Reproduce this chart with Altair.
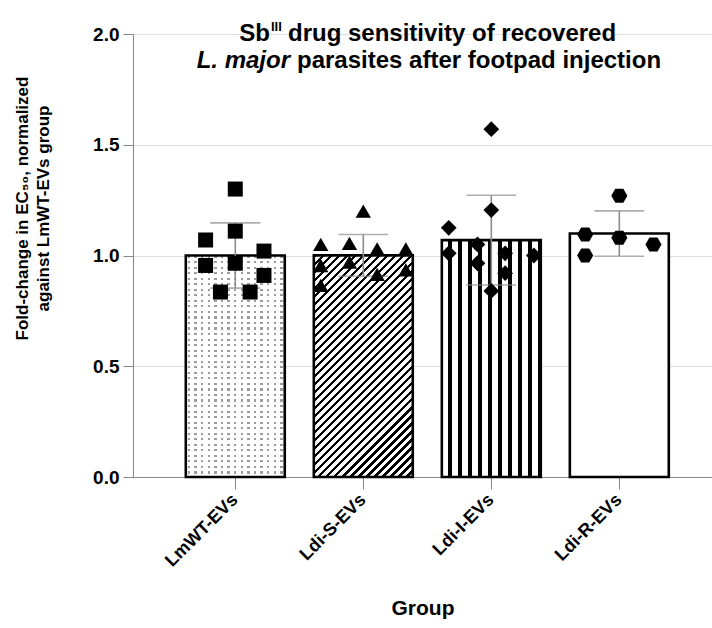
import altair as alt
import pandas as pd
import numpy as np
import json

# ---------------- data ----------------
groups = ["LmWT-EVs", "Ldi-S-EVs", "Ldi-I-EVs", "Ldi-R-EVs"]

lmwt_values = [1.30, 1.11, 1.07, 1.02, 0.955, 0.965, 0.91, 0.835, 0.835]
lmwt_jitter = [0.0, 0.0, -0.30, 0.29, -0.30, 0.0, 0.29, -0.15, 0.15]

ldis_values = [1.20, 1.05, 1.055, 1.03, 1.03, 0.955, 0.97, 0.915, 0.935, 0.865]
ldis_jitter = [0.0, -0.43, -0.14, 0.14, 0.43, -0.43, -0.14, 0.14, 0.43, -0.43]

ldii_values = [1.57, 1.205, 1.125, 1.01, 1.05, 0.965, 1.01, 0.92, 1.0, 0.84]
ldii_jitter = [0.0, 0.0, -0.43, -0.43, -0.14, -0.14, 0.14, 0.14, 0.43, 0.0]

ldir_values = [1.27, 1.095, 1.08, 1.05, 1.0]
ldir_jitter = [0.0, -0.345, 0.0, 0.345, -0.345]

y_ticks = [0.0, 0.5, 1.0, 1.5, 2.0]

rows = []
for g, vals, jit in zip(groups,
                        [lmwt_values, ldis_values, ldii_values, ldir_values],
                        [lmwt_jitter, ldis_jitter, ldii_jitter, ldir_jitter]):
    for v, j in zip(vals, jit):
        rows.append({"group": g, "value": v, "jitter": j})
df = pd.DataFrame(rows)

# ---------------- layout ----------------
W_PLOT, H_PLOT = 579, 443
PAD_IN, PAD_OUT, ALIGN = 0.227, 0.375, 0.55
n = len(groups)
step = W_PLOT / (n - PAD_IN + 2 * PAD_OUT)
bandwidth = step * (1 - PAD_IN)
first_center = (W_PLOT - step * (n - PAD_IN)) * ALIGN + bandwidth / 2
px_per_unit = H_PLOT / 2.0
FONT = "Liberation Sans"

# linear scale for the jittered points that lines up with the band centres
xq_domain = [-first_center / step, (W_PLOT - first_center) / step]
band_frac = bandwidth / step


def stripe_stops(starts, width, on, off):
    """starts/width as fractions in [0,1]"""
    stops = [{"offset": 0.0, "color": off}]
    for s in starts:
        a = max(0.0, min(1.0, s))
        b = max(0.0, min(1.0, s + width))
        if b <= a:
            continue
        stops += [{"offset": a, "color": off}, {"offset": a, "color": on},
                  {"offset": b, "color": on}, {"offset": b, "color": off}]
    stops.append({"offset": 1.0, "color": off})
    return stops


# bar 1: dotted texture (gray rows masked by white columns)
h1 = np.mean(lmwt_values) * px_per_unit
n_rows = int(h1 / 5.5)
rows_grad = {"gradient": "linear", "x1": 0, "y1": 0, "x2": 0, "y2": 1,
             "stops": stripe_stops([k / n_rows for k in range(n_rows)],
                                   0.38 / n_rows, "#9c9c9c", "#ffffff")}
n_cols = int(bandwidth / 6.5)
cols_grad = {"gradient": "linear", "x1": 0, "y1": 0, "x2": 1, "y2": 0,
             "stops": stripe_stops([(k + 0.3) / n_cols for k in range(n_cols)],
                                   0.38 / n_cols, "rgba(255,255,255,0)", "#ffffff")}

# bar 2: diagonal hatch "/"
h2 = np.mean(ldis_values) * px_per_unit
r = bandwidth / h2
b_ = (1 + r) / (1 + r * r)
a_ = r * b_
n_diag = int((bandwidth + h2) / np.sqrt(2) / 5.6)
diag_grad = {"gradient": "linear", "x1": 0, "y1": 0, "x2": float(a_), "y2": float(b_),
             "stops": stripe_stops([k / n_diag for k in range(n_diag)],
                                   0.42 / n_diag, "#000000", "#ffffff")}

# bar 3: vertical stripes
vstarts = [(6.5 + 10 * k) / bandwidth for k in range(10)]
vert_grad = {"gradient": "linear", "x1": 0, "y1": 0, "x2": 1, "y2": 0,
             "stops": stripe_stops(vstarts, 3.3 / bandwidth, "#000000", "#ffffff")}

# ---------------- encodings ----------------
x_scale = alt.Scale(domain=groups, paddingInner=PAD_IN, paddingOuter=PAD_OUT, align=ALIGN)
x_axis = alt.Axis(
    title="Group", labelAngle=-45, labelAlign="right", labelBaseline="middle",
    labelPadding=8, labelFontSize=18, labelFontWeight="bold", tickSize=12,
    titleFontSize=21, titleY=137, titleBaseline="alphabetic",
)
x_enc = alt.X("group:N", sort=groups, scale=x_scale, axis=x_axis)
y_axis = alt.Axis(
    title=["Fold-change in EC\u2085\u2080, normalized", "against LmWT-EVs group"],
    values=y_ticks, format=".1f", tickSize=10, labelFontSize=19, labelFontWeight="bold",
    labelPadding=4, titleFontSize=17, titleLineHeight=21, titleAngle=270,
    titleAlign="center", titleBaseline="top", titleX=-119, titleY=174,
)
y_scale = alt.Scale(domain=[0, 2], nice=False, zero=True)


def bar_layer(g, fill, stroke=True):
    return alt.Chart(df).transform_filter(alt.datum.group == g).mark_bar(
        fill=fill,
        stroke="black" if stroke else None,
        strokeWidth=2.6 if stroke else 0,
    ).encode(x=x_enc, y=alt.Y("mean(value):Q", scale=y_scale, axis=y_axis))


bar1a = alt.Chart(df).transform_filter(alt.datum.group == groups[0]).mark_bar(
    fill=rows_grad, strokeWidth=0
).encode(x=x_enc, y=alt.Y("mean(value):Q", scale=y_scale, axis=y_axis))
bar1b = bar_layer(groups[0], cols_grad)
bar2 = bar_layer(groups[1], diag_grad)
bar3 = bar_layer(groups[2], vert_grad)
bar4 = bar_layer(groups[3], "#ffffff")

stats = alt.Chart(df).transform_aggregate(
    m="mean(value)", sd="stdev(value)", groupby=["group"]
).transform_calculate(lo="datum.m - datum.sd", hi="datum.m + datum.sd")

err_rule = stats.mark_rule(color="#8c8c8c", strokeWidth=1.6).encode(
    x=x_enc, y=alt.Y("lo:Q", scale=y_scale, axis=y_axis), y2="hi:Q")
cap_hi = stats.mark_tick(color="#8c8c8c", thickness=1.6, size=50).encode(
    x=x_enc, y=alt.Y("hi:Q", scale=y_scale, axis=y_axis))
cap_lo = stats.mark_tick(color="#8c8c8c", thickness=1.6, size=50).encode(
    x=x_enc, y=alt.Y("lo:Q", scale=y_scale, axis=y_axis))

base = alt.layer(bar1a, bar1b, bar2, bar3, bar4, err_rule, cap_hi, cap_lo)

hexagon = "M-1,0L-0.5,-0.866L0.5,-0.866L1,0L0.5,0.866L-0.5,0.866Z"
points = alt.Chart(df).transform_calculate(
    xq=f"indexof({json.dumps(groups)}, datum.group) + datum.jitter * {band_frac}"
).mark_point(filled=True, color="black", opacity=1).encode(
    x=alt.X("xq:Q", scale=alt.Scale(domain=xq_domain, nice=False, zero=False), axis=None),
    y=alt.Y("value:Q", scale=y_scale, axis=y_axis),
    shape=alt.Shape("group:N", scale=alt.Scale(
        domain=groups, range=["square", "triangle-up", "diamond", hexagon]), legend=None),
    size=alt.Size("group:N", scale=alt.Scale(domain=groups, range=[225, 260, 300, 290]),
                  legend=None),
)

one = pd.DataFrame({"k": [0]})
TS = 24


def txt(t, x, y, size=TS, align="left", style="normal"):
    return alt.Chart(one).mark_text(
        text=t, font=FONT, fontSize=size, fontWeight="bold", fontStyle=style,
        align=align, baseline="alphabetic", color="black",
    ).encode(x=alt.value(x), y=alt.value(y))


t1 = txt("Sb", 137, 7, align="right")
t2 = txt("III", 138, -3, size=13)
t3 = txt("drug sensitivity of recovered", 155, 7)
t4 = txt("L. major", 157, 34, align="right", style="italic")
t5 = txt("parasites after footpad injection", 164, 34)

chart = alt.layer(
    base, points, t1, t2, t3, t4, t5,
).resolve_scale(x="independent").properties(
    width=W_PLOT, height=H_PLOT,
    autosize=alt.AutoSizeParams(type="none"),
    padding={"left": 133, "top": 34, "right": 0, "bottom": 151},
    background="white",
).configure_view(stroke=None).configure_axis(
    grid=False, domainColor="black", domainWidth=2.6, tickColor="black", tickWidth=2.6,
    labelFont=FONT, labelFontWeight="bold", labelColor="black",
    titleFont=FONT, titleFontWeight="bold", titleColor="black",
).configure(font=FONT)

chart.save("out.html", embed_options={"renderer": "svg", "actions": False})
